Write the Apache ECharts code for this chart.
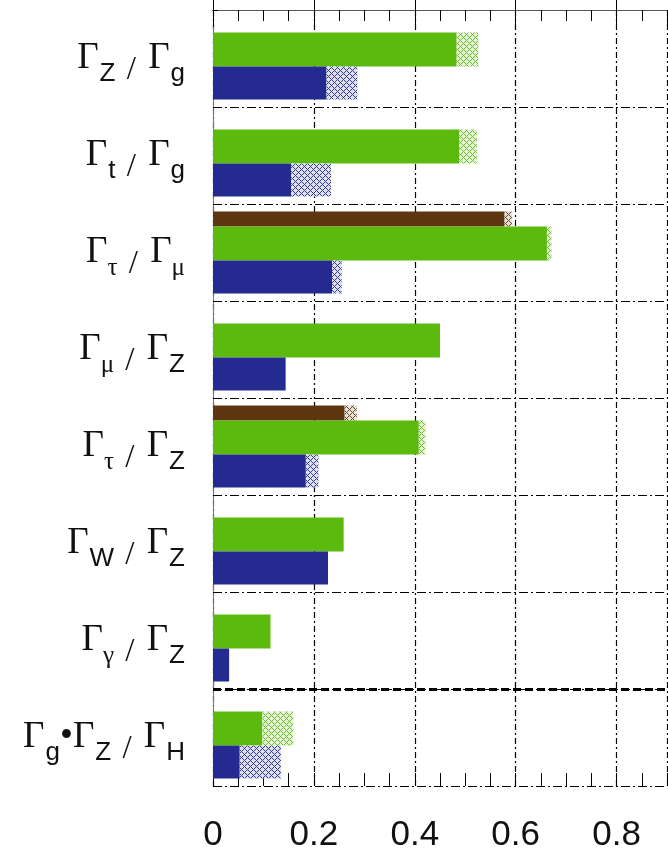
<!DOCTYPE html>
<html><head><meta charset="utf-8">
<script src="https://cdn.jsdelivr.net/npm/echarts@6/dist/echarts.min.js"></script>
<style>html,body{margin:0;padding:0;background:#fff}#c{width:668px;height:852px}</style>
</head><body><div id="c"></div>
<script>
// ---- data ----
const categories = ['Γ_{Z} / Γ_{g}', 'Γ_{t} / Γ_{g}', 'Γ_{τ} / Γ_{μ}', 'Γ_{μ} / Γ_{Z}',
  'Γ_{τ} / Γ_{Z}', 'Γ_{W} / Γ_{Z}', 'Γ_{γ} / Γ_{Z}', 'Γ_{g}•Γ_{Z} / Γ_{H}'];
const brownSolid = ['-', '-', 0.578, '-', 0.261, '-', '-', '-'];
const brownTotal = ['-', '-', 0.593, '-', 0.285, '-', '-', '-'];
const greenSolid = [0.483, 0.488, 0.662, 0.450, 0.408, 0.259, 0.114, 0.098];
const greenTotal = [0.526, 0.523, 0.671, '-', 0.421, '-', '-', 0.159];
const blueSolid = [0.225, 0.155, 0.236, 0.144, 0.184, 0.228, 0.032, 0.053];
const blueTotal = [0.286, 0.234, 0.255, '-', 0.209, '-', '-', 0.135];
const separatorAfter = [7];
const xTicks = [0, 0.2, 0.4, 0.6, 0.8];

const BROWN = '#5e3610', GREEN = '#5cba0e', BLUE = '#242a90';

function extra(total, solid) {
  return total.map((t, i) => (t === '-' || solid[i] === '-') ? '-' : +(t - solid[i]).toFixed(4));
}
function hatch(color) {
  const c = document.createElement('canvas');
  c.width = 6; c.height = 6;
  const g = c.getContext('2d');
  g.fillStyle = '#fff'; g.fillRect(0, 0, 6, 6);
  g.globalAlpha = 0.15; g.fillStyle = color; g.fillRect(0, 0, 6, 6);
  g.globalAlpha = 0.9;
  const bm = ['#.#...', '.#....', '#.#...', '...#.#', '....#.', '...#.#'];
  for (let y = 0; y < 6; y++) for (let x = 0; x < 6; x++) if (bm[y][x] === '#') g.fillRect(x, y, 1, 1);
  return { image: c, repeat: 'repeat' };
}
const greekSubs = 'τμγ';
function fmt(s) {
  let out = '{sp|\u200b}';
  const parts = s.split(/(_\{[^}]*\})/);
  parts.forEach(p => {
    if (!p) return;
    const m = p.match(/^_\{(.*)\}$/);
    if (m) {
      out += (greekSubs.indexOf(m[1]) >= 0 ? '{sg|' : '{ss|') + m[1] + '}';
    } else {
      p.split(/([\/])/).forEach(q => {
        if (!q) return;
        if (q === '/') out += '{sl|/}';
        else out += '{G|' + q + '}';
      });
    }
  });
  return out;
}

const dashDot = [9, 3, 2, 3];
const chart = echarts.init(document.getElementById('c'));
const barCommon = { type: 'bar', barGap: '0%', silent: true, animation: false };
chart.setOption({
  animation: false,
  grid: { left: 213, right: 1, top: 10, bottom: 66, containLabel: false, outerBoundsMode: 'none' },
  xAxis: [
    { type: 'value', position: 'bottom', min: 0, max: 0.9, interval: 0.2,
      axisLine: { show: true, lineStyle: { color: '#000', width: 1 } },
      axisTick: { show: true, inside: true, length: 17, lineStyle: { color: '#000', width: 1 } },
      axisLabel: { show: true, showMaxLabel: false, margin: 32, fontSize: 35, fontFamily: 'Liberation Sans', color: '#111',
        formatter: v => xTicks.indexOf(v) >= 0 ? String(v) : '' },
      splitLine: { show: true, lineStyle: { color: '#000', width: 1.2, type: [6, 3, 2, 3] } } },
    { type: 'value', position: 'top', min: 0, max: 0.9, interval: 0.2,
      axisLine: { show: true, lineStyle: { color: '#555', width: 1 } },
      axisTick: { show: true, inside: true, length: 17, lineStyle: { color: '#000', width: 1 } },
      axisLabel: { show: false }, splitLine: { show: false } },
    { type: 'value', position: 'top', min: 0, max: 0.9, interval: 0.05,
      axisLine: { show: false },
      axisTick: { show: true, inside: true, length: 11, lineStyle: { color: '#000', width: 1 } },
      axisLabel: { show: false }, splitLine: { show: false } },
    { type: 'value', position: 'bottom', min: 0, max: 0.9, interval: 0.05,
      axisLine: { show: false },
      axisTick: { show: true, inside: true, length: 13, lineStyle: { color: '#000', width: 1 } },
      axisLabel: { show: false }, splitLine: { show: false } }
  ],
  yAxis: [
    { type: 'category', data: categories, inverse: true,
      axisLine: { show: true, lineStyle: { color: '#000', width: 1 } },
      axisTick: { show: true, inside: true, length: 5, alignWithLabel: false, lineStyle: { color: '#000' } },
      splitLine: { show: true, lineStyle: { color: '#000', width: 1.2, type: dashDot } },
      axisLabel: { show: true, interval: 0, margin: 28, formatter: fmt,
        rich: {
          sp: { fontSize: 10, lineHeight: 56, verticalAlign: 'middle' },
          G: { fontFamily: 'Liberation Serif', fontSize: 37, color: '#111', lineHeight: 40, verticalAlign: 'middle' },
          sl: { fontFamily: 'Liberation Serif', fontSize: 33, color: '#111', lineHeight: 47, verticalAlign: 'bottom', padding: [0, 3, 0, 2] },
          ss: { fontFamily: 'Liberation Sans', fontSize: 26, color: '#111', lineHeight: 24, verticalAlign: 'bottom', padding: [0, 0, 0, 1] },
          sg: { fontFamily: 'Liberation Serif', fontSize: 25, color: '#111', lineHeight: 38, verticalAlign: 'bottom' }
        } } },
    { type: 'value', min: 0, max: 8, inverse: true, position: 'right',
      axisLine: { show: true, lineStyle: { color: '#777', width: 1 } },
      axisTick: { show: false }, axisLabel: { show: false }, splitLine: { show: false } }
  ],
  series: [
    Object.assign({}, barCommon, { name: 'brown', stack: 'b', barWidth: 15, data: brownSolid, itemStyle: { color: BROWN } }),
    Object.assign({}, barCommon, { name: 'brownX', stack: 'b', barWidth: 15, data: extra(brownTotal, brownSolid), itemStyle: { color: hatch(BROWN) } }),
    Object.assign({}, barCommon, { name: 'green', stack: 'g', barWidth: 34, data: greenSolid, itemStyle: { color: GREEN } }),
    Object.assign({}, barCommon, { name: 'greenX', stack: 'g', barWidth: 34, data: extra(greenTotal, greenSolid), itemStyle: { color: hatch(GREEN) } }),
    Object.assign({}, barCommon, { name: 'blue', stack: 'bl', barWidth: 33, data: blueSolid, itemStyle: { color: BLUE } }),
    Object.assign({}, barCommon, { name: 'blueX', stack: 'bl', barWidth: 33, data: extra(blueTotal, blueSolid), itemStyle: { color: hatch(BLUE) } }),
    { type: 'line', xAxisIndex: 0, yAxisIndex: 1, data: [], silent: true,
      markLine: { symbol: 'none', silent: true, animation: false, label: { show: false },
        lineStyle: { color: '#000', width: 3, type: [8, 4] },
        data: separatorAfter.map(v => ({ yAxis: v })) } }
  ]
});
</script></body></html>
